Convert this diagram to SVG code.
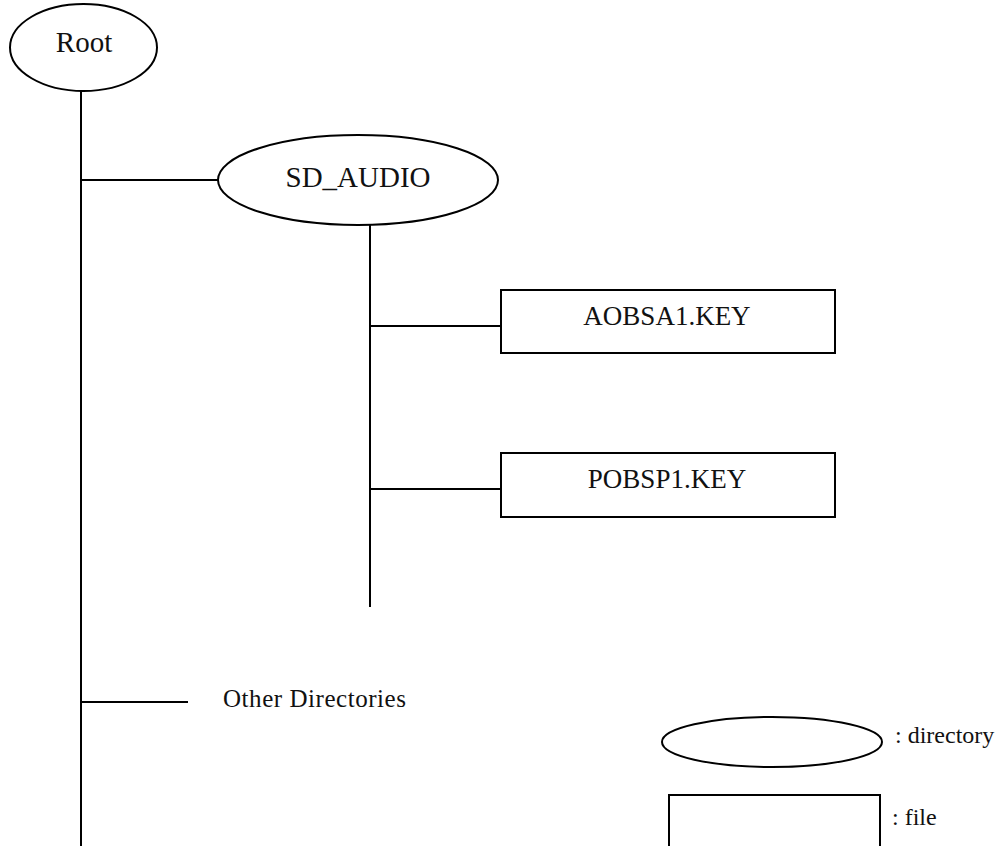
<svg xmlns="http://www.w3.org/2000/svg" width="1005" height="846" viewBox="0 0 1005 846">
  <style>
    .shape { fill: #ffffff; stroke: #000000; stroke-width: 2; }
    .link { stroke: #000000; stroke-width: 2; fill: none; }
    .label { font-family: "Liberation Serif", "DejaVu Serif", serif; fill: #111111; }
    .big { font-size: 27px; text-anchor: middle; }
    .small { font-size: 24px; }
  </style>
  <rect width="1005" height="846" fill="#ffffff"/>

  <!-- tree connectors -->
  <g id="connectors">
    <line class="link" x1="81" y1="90" x2="81" y2="846"/>
    <line class="link" x1="81" y1="180" x2="219" y2="180"/>
    <line class="link" x1="370" y1="225" x2="370" y2="607"/>
    <line class="link" x1="370" y1="326" x2="501" y2="326"/>
    <line class="link" x1="370" y1="489" x2="501" y2="489"/>
    <line class="link" x1="81" y1="702" x2="188" y2="702"/>
  </g>

  <g id="root">
    <ellipse class="shape" cx="83.5" cy="47.5" rx="73.5" ry="43.5"/>
    <text class="label big" x="84" y="52" style="font-size:29px">Root</text>
  </g>

  <g id="sd-audio">
    <ellipse class="shape" cx="358" cy="180" rx="140" ry="45"/>
    <text class="label big" x="358" y="187" style="font-size:29px">SD_AUDIO</text>
  </g>

  <g id="aobsa1-key">
    <rect class="shape" x="501" y="290" width="334" height="63"/>
    <text class="label big" x="667" y="325">AOBSA1.KEY</text>
  </g>

  <g id="pobsp1-key">
    <rect class="shape" x="501" y="453" width="334" height="64"/>
    <text class="label big" x="667" y="488">POBSP1.KEY</text>
  </g>

  <g id="other-directories">
    <text class="label small" x="223" y="707" style="font-size:25px" textLength="183" lengthAdjust="spacing">Other Directories</text>
  </g>

  <!-- legend -->
  <g id="legend-directory">
    <ellipse class="shape" cx="772" cy="742" rx="110" ry="25"/>
    <text class="label small" x="895" y="743">: directory</text>
  </g>

  <g id="legend-file">
    <rect class="shape" x="669" y="795" width="211" height="60"/>
    <text class="label small" x="892" y="825">: file</text>
  </g>
</svg>
